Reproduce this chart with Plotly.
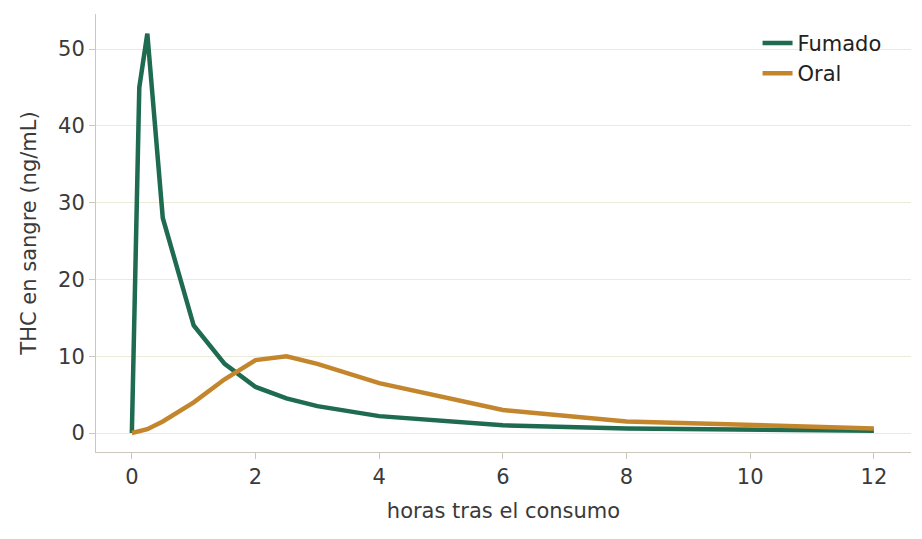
import plotly.graph_objects as go

fum_x = [0, 0.12, 0.25, 0.5, 1, 1.5, 2, 2.5, 3, 4, 6, 8, 12]
fum_y = [0, 45, 52, 28, 14, 9, 6, 4.5, 3.5, 2.2, 1.0, 0.6, 0.3]
oral_x = [0, 0.25, 0.5, 1, 1.5, 2, 2.5, 3, 4, 6, 8, 12]
oral_y = [0, 0.5, 1.5, 4, 7, 9.5, 10, 9, 6.5, 3, 1.5, 0.6]

fig = go.Figure()
fig.add_trace(go.Scatter(x=fum_x, y=fum_y, mode="lines", name="Fumado",
                         line=dict(color="#1e6b50", width=4.5)))
fig.add_trace(go.Scatter(x=oral_x, y=oral_y, mode="lines", name="Oral",
                         line=dict(color="#c4862c", width=4.5)))
fig.update_layout(
    width=922, height=539, paper_bgcolor="white", plot_bgcolor="white",
    margin=dict(l=88, r=19, t=6, b=95),
    font=dict(family="DejaVu Sans", size=21, color="#3a3a3a"),
    legend=dict(x=0.97, y=0.98, xanchor="right", yanchor="top",
                bgcolor="rgba(0,0,0,0)", font=dict(size=21, color="#222")),
    xaxis=dict(range=[-0.58, 12.6], tickvals=[0, 2, 4, 6, 8, 10, 12],
               showgrid=False, zeroline=False, showline=True, linecolor="#ccc8bd",
               ticks="outside", tickcolor="#ccc8bd", ticklen=6, automargin=False,
               title=dict(text="horas tras el consumo", font=dict(size=21))),
    yaxis=dict(range=[-2.47, 54.56], tickvals=[0, 10, 20, 30, 40, 50],
               showgrid=True, gridcolor="#ebeadb", zeroline=False,
               showline=True, linecolor="#ccc8bd", automargin=False,
               ticks="outside", tickcolor="#ccc8bd", ticklen=6,
               title=dict(text="THC en sangre (ng/mL)", font=dict(size=21))),
)
fig.write_html("out.html")
